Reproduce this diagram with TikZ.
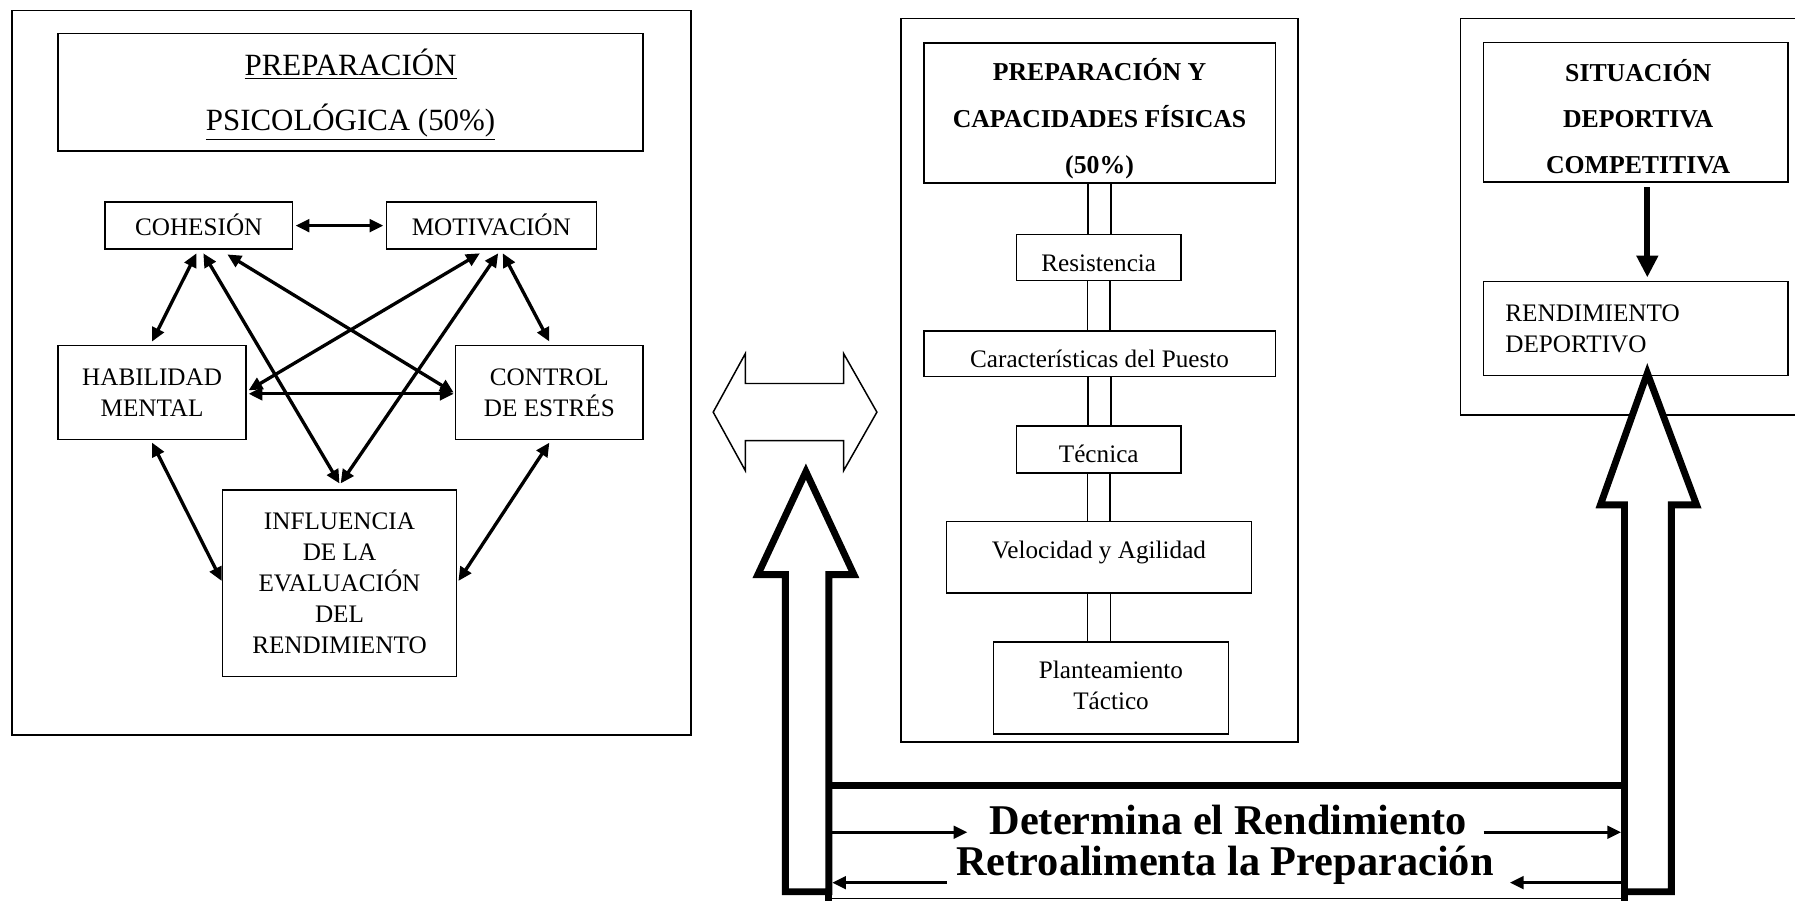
\documentclass[tikz,border=0pt]{standalone}
\usepackage{fontspec}
\setmainfont{Liberation Serif}
\usetikzlibrary{arrows.meta,calc}
\begin{document}
\begin{tikzpicture}[x=1pt,y=-1pt,
  box/.style={draw,line width=1.3pt,inner sep=0pt,align=center,font=\fontsize{22}{27}\selectfont},
  bbox/.style={box,font=\fontsize{22.5}{40.5}\selectfont\bfseries},
  btext/.style={inner sep=0pt,align=center,font=\fontsize{22.5}{40.5}\selectfont\bfseries},
  frame/.style={draw,line width=1.3pt,inner sep=0pt},
  link/.style={line width=2.9pt,{Triangle[length=12pt,width=11pt]}-{Triangle[length=12pt,width=11pt]}},
  dbl/.style={line width=1.3pt},
  big/.style={line width=6pt,fill=white,line join=miter},
  small/.style={line width=2.6pt,-{Triangle[length=12pt,width=11pt]}},
  lbl/.style={inner sep=0pt,anchor=base,font=\fontsize{37}{40}\selectfont\bfseries},
  low/.style={text height=23.5pt,text depth=0pt}
]
\useasboundingbox (0,0) rectangle (1568,787);

% ---------- left panel ----------
\node[frame,minimum width=593pt,minimum height=633pt] (outL) at (307,325.6) {};
\node[box,minimum width=511pt,minimum height=102.5pt] (titL) at (306.25,80.55) {};
\node[inner sep=0pt,align=center,font=\fontsize{27}{48}\selectfont] (titLt) at ([yshift=-2pt]titL.center)
  {\underline{PREPARACIÓN}\\\underline{PSICOLÓGICA (50\%)}};
\node[box,minimum width=164pt,minimum height=41pt,text height=18pt,text depth=0pt] (coh) at (173.6,197.1) {COHESIÓN};
\node[box,minimum width=183.4pt,minimum height=41pt,text height=18pt,text depth=0pt] (mot) at (429.2,197.1) {MOTIVACIÓN};
\node[box,minimum width=164.3pt,minimum height=82pt] (hab) at (132.85,343) {HABILIDAD\\MENTAL};
\node[box,minimum width=163.8pt,minimum height=82pt] (ctl) at (479.9,343) {CONTROL\\DE ESTRÉS};
\node[box,minimum width=204.5pt,minimum height=163pt] (inf) at (296.55,509.5)
  {INFLUENCIA\\DE LA\\EVALUACIÓN\\DEL\\RENDIMIENTO};

\draw[link] ([xshift=2pt]coh.east) -- ([xshift=-2pt]mot.west);
\draw[link] ([xshift=-2pt,yshift=-3pt]coh.south) -- ([yshift=3pt]hab.north);
\draw[link] ([xshift=4pt,yshift=-3pt]coh.south) -- ([yshift=5pt]inf.north);
\draw[link] ([xshift=25pt,yshift=-4pt]coh.south) -- ([xshift=-1pt]ctl.west);
\draw[link] ([xshift=-10pt,yshift=-3pt]mot.south) -- ([xshift=1.5pt,yshift=2pt]hab.east);
\draw[link] ([xshift=6pt,yshift=-3pt]mot.south) -- ([xshift=1pt,yshift=5pt]inf.north);
\draw[link] ([xshift=10pt,yshift=-3pt]mot.south) -- ([yshift=3pt]ctl.north);
\draw[link] ([xshift=1.5pt,yshift=-1pt]hab.east) -- ([xshift=-1pt,yshift=-1pt]ctl.west);
\draw[link] ([yshift=-2pt]hab.south) -- ([yshift=2pt]inf.west);
\draw[link] ([yshift=-2pt]ctl.south) -- ([xshift=1pt,yshift=2pt]inf.east);

% ---------- middle panel ----------
\node[frame,minimum width=347pt,minimum height=632pt] (outM) at (960.5,332) {};
\node[box,minimum width=307pt,minimum height=122.4pt] (titM) at (960.5,98.8) {};
\node[btext] (titMt) at ([yshift=-5pt]titM.center) {PREPARACIÓN Y\\CAPACIDADES FÍSICAS\\(50\%)};
\node[box,low,minimum width=143.6pt,minimum height=40pt] (res) at (959.8,225) {Resistencia};
\node[box,low,minimum width=307pt,minimum height=40pt] (car) at (960.5,309) {Características del Puesto};
\node[box,low,minimum width=143.6pt,minimum height=41pt] (tec) at (959.8,392.5) {Técnica};
\node[box,minimum width=266pt,minimum height=62.4pt,text height=16pt,text depth=13.4pt] (vel) at (960,486.8) {Velocidad y Agilidad};
\node[box,minimum width=205pt,minimum height=80pt] (pla) at (970.5,601) {};
\node[inner sep=0pt,align=center,font=\fontsize{22}{27}\selectfont] (plat) at ([yshift=2.5pt]pla.center) {Planteamiento\\Táctico};
\foreach \a/\b in {titM/res,res/car,car/tec,tec/vel,vel/pla}{
  \draw[dbl] ([xshift=-10pt]\a.south) -- ([xshift=-10pt]\a.south |- \b.north);
  \draw[dbl] ([xshift=10pt]\a.south) -- ([xshift=10pt]\a.south |- \b.north);
}

% ---------- right panel ----------
\draw[line width=1.3pt] (1575,16) -| (1276,362.5) -- (1575,362.5);
\node[box,minimum width=266pt,minimum height=122pt] (sit) at (1429,98) {};
\node[btext] (sitt) at ([xshift=2pt,yshift=-4pt]sit.center) {SITUACIÓN\\DEPORTIVA\\COMPETITIVA};
\node[box,minimum width=266pt,minimum height=82pt,align=left,text width=228pt] (ren) at (1429,287)
  {RENDIMIENTO\\DEPORTIVO};
\draw[line width=5pt,-{Triangle[length=19pt,width=18pt]}] ([xshift=10pt,yshift=-4pt]sit.south) -- ([xshift=10pt,yshift=3pt]ren.north);

% ---------- hollow double arrow ----------
\draw[line width=1.3pt,fill=white] (623,360) -- (651,309) -- (651,335) -- (737,335) -- (737,309) -- (766,360)
  -- (737,411) -- (737,385) -- (651,385) -- (651,411) -- cycle;

% ---------- bottom frame ----------
\draw[line width=6pt] (721,686) -- (1422,686);
\draw[line width=1.3pt] (724,785) -- (1419,785);
\draw[line width=6pt] (724,686) -- (724,787);
\draw[line width=6pt] (1419,686) -- (1419,787);

% ---------- big hollow arrows ----------
\draw[big] (704,412) -- (746,502) -- (724,502) -- (724,779) -- (686,779) -- (686,502) -- (662,502) -- cycle;
\draw[big] (1439,326) -- (1482,441) -- (1460,441) -- (1460,779) -- (1419,779) -- (1419,441) -- (1398,441) -- cycle;

% ---------- labels & small arrows ----------
\node[lbl] (det) at (1073,729) {Determina el Rendimiento};
\node[lbl] (ret) at (1070,765) {Retroalimenta la Preparación};
\coordinate (d1s) at (727,727);
\coordinate (d1e) at (845,727);
\coordinate (d2s) at (1296,727);
\coordinate (d2e) at (1416,727);
\coordinate (r1s) at (827,771);
\coordinate (r1e) at (727,771);
\coordinate (r2s) at (1416,771);
\coordinate (r2e) at (1319,771);
\draw[small] (d1s) -- (d1e);
\draw[small] (d2s) -- (d2e);
\draw[small] (r1s) -- (r1e);
\draw[small] (r2s) -- (r2e);
\end{tikzpicture}
\end{document}
